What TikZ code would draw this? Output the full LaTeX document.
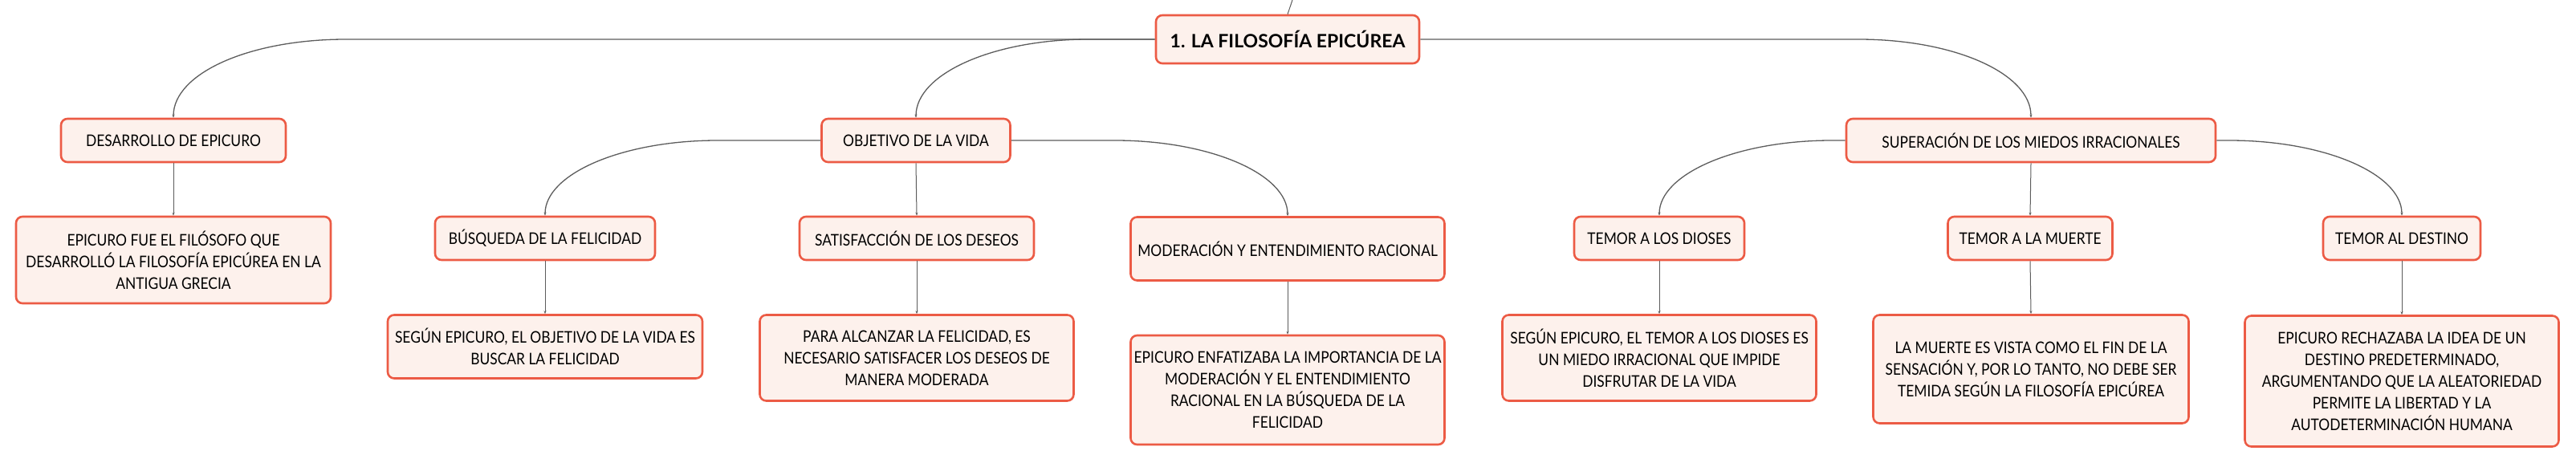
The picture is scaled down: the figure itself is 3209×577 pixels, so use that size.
\documentclass[tikz,border=0pt]{standalone}
\usepackage{fontspec}
\setmainfont{Lato}[FakeStretch=0.87]
\newfontfamily\rootfont{Lato}
\usetikzlibrary{arrows.meta}
\definecolor{boxline}{HTML}{EC5B45}
\definecolor{boxfill}{HTML}{FDF1EC}
\definecolor{linkgray}{HTML}{5C5C5C}
\tikzset{
  mmbox/.style={draw=boxline, fill=boxfill, line width=2.6pt, rounded corners=8pt,
    align=center, inner sep=0pt, font=\fontsize{20}{27}\selectfont, text=black},
  rootbox/.style={mmbox, font=\rootfont\fontsize{23}{28}\selectfont\bfseries},
  curvelink/.style={draw=linkgray, line width=1.3pt, -{Stealth[length=4pt,width=3pt]}},
  straightlink/.style={draw=linkgray, line width=1pt, -{Stealth[length=4pt,width=3pt]}}
}
\begin{document}
\begin{tikzpicture}[x=1pt,y=-1pt]
\useasboundingbox (0,0) rectangle (3209,577);
% root
\node[rootbox, minimum width=328pt, minimum height=60pt] (root) at (1604,49) {1. LA FILOSOFÍA EPICÚREA};
\coordinate (up) at (1610,0);
% level 1
\node[mmbox, minimum width=280pt, minimum height=54pt] (des) at (216,175) {DESARROLLO DE EPICURO};
\node[mmbox, minimum width=235pt, minimum height=54pt] (obj) at (1141,175) {OBJETIVO DE LA VIDA};
\node[mmbox, minimum width=460pt, minimum height=54pt] (sup) at (2530,175) {SUPERACIÓN DE LOS MIEDOS IRRACIONALES};
% level 2
\node[mmbox, minimum width=392pt, minimum height=108pt] (epi) at (216,324) {EPICURO FUE EL FILÓSOFO QUE\\DESARROLLÓ LA FILOSOFÍA EPICÚREA EN LA\\ANTIGUA GRECIA};
\node[mmbox, minimum width=274pt, minimum height=54pt] (bus) at (679,297) {BÚSQUEDA DE LA FELICIDAD};
\node[mmbox, minimum width=292pt, minimum height=54pt] (sat) at (1142,297) {SATISFACCIÓN DE LOS DESEOS};
\node[mmbox, minimum width=391pt, minimum height=79pt] (mod) at (1604,310) {MODERACIÓN Y ENTENDIMIENTO RACIONAL};
\node[mmbox, minimum width=212pt, minimum height=54pt] (dio) at (2067,297) {TEMOR A LOS DIOSES};
\node[mmbox, minimum width=205pt, minimum height=54pt] (mue) at (2529,297) {TEMOR A LA MUERTE};
\node[mmbox, minimum width=196pt, minimum height=54pt] (dst) at (2992,297) {TEMOR AL DESTINO};
% leaves
\node[mmbox, minimum width=392pt, minimum height=79pt] (busl) at (679,432) {SEGÚN EPICURO, EL OBJETIVO DE LA VIDA ES\\BUSCAR LA FELICIDAD};
\node[mmbox, minimum width=391pt, minimum height=107pt] (satl) at (1142,446) {PARA ALCANZAR LA FELICIDAD, ES\\NECESARIO SATISFACER LOS DESEOS DE\\MANERA MODERADA};
\node[mmbox, minimum width=391pt, minimum height=136pt] (modl) at (1604,486) {EPICURO ENFATIZABA LA IMPORTANCIA DE LA\\MODERACIÓN Y EL ENTENDIMIENTO\\RACIONAL EN LA BÚSQUEDA DE LA\\FELICIDAD};
\node[mmbox, minimum width=391pt, minimum height=107pt] (diol) at (2067,446) {SEGÚN EPICURO, EL TEMOR A LOS DIOSES ES\\UN MIEDO IRRACIONAL QUE IMPIDE\\DISFRUTAR DE LA VIDA};
\node[mmbox, minimum width=393pt, minimum height=135pt] (muel) at (2530,460) {LA MUERTE ES VISTA COMO EL FIN DE LA\\SENSACIÓN Y, POR LO TANTO, NO DEBE SER\\TEMIDA SEGÚN LA FILOSOFÍA EPICÚREA};
\node[mmbox, minimum width=391pt, minimum height=163pt] (dstl) at (2992,475) {EPICURO RECHAZABA LA IDEA DE UN\\DESTINO PREDETERMINADO,\\ARGUMENTANDO QUE LA ALEATORIEDAD\\PERMITE LA LIBERTAD Y LA\\AUTODETERMINACIÓN HUMANA};
% bend points
\coordinate (c1) at (431,49);
\coordinate (c2) at (1356,49);
\coordinate (c3) at (2315,49);
\coordinate (c4) at (894,175);
\coordinate (c5) at (1389,175);
\coordinate (c6) at (2282,175);
\coordinate (c7) at (2777,175);
% connectors
\draw[draw=linkgray, line width=1pt] (root.north) -- (up);
\draw[curvelink] (root.west) -- (c1) .. controls +(-121,0) and +(0,-55) .. (des.north);
\draw[curvelink] (root.west) -- (c2) .. controls +(-118,0) and +(0,-55) .. (obj.north);
\draw[curvelink] (root.east) -- (c3) .. controls +(120,0) and +(0,-55) .. (sup.north);
\draw[curvelink] (obj.west) -- (c4) .. controls +(-119,0) and +(0,-52) .. (bus.north);
\draw[curvelink] (obj.east) -- (c5) .. controls +(119,0) and +(0,-52) .. (mod.north);
\draw[curvelink] (sup.west) -- (c6) .. controls +(-119,0) and +(0,-52) .. (dio.north);
\draw[curvelink] (sup.east) -- (c7) .. controls +(119,0) and +(0,-52) .. (dst.north);
\draw[straightlink] (des.south) -- (epi.north);
\draw[straightlink] (obj.south) -- (sat.north);
\draw[straightlink] (sup.south) -- (mue.north);
\draw[straightlink] (bus.south) -- (busl.north);
\draw[straightlink] (sat.south) -- (satl.north);
\draw[straightlink] (mod.south) -- (modl.north);
\draw[straightlink] (dio.south) -- (diol.north);
\draw[straightlink] (mue.south) -- (muel.north);
\draw[straightlink] (dst.south) -- (dstl.north);
\end{tikzpicture}
\end{document}
